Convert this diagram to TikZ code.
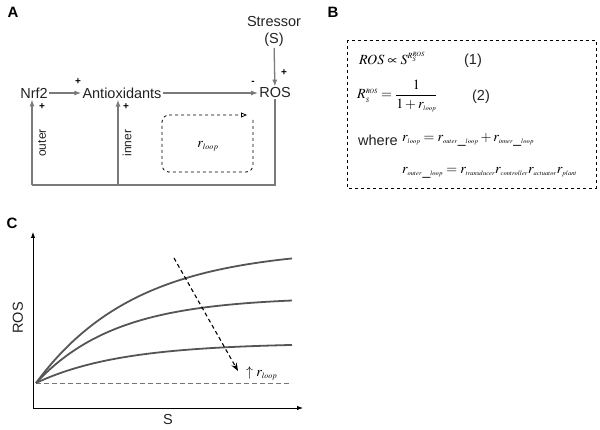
\documentclass[tikz,border=0pt]{standalone}
\usepackage{mathptmx}
\usepackage{fontspec}
\setmainfont{Liberation Sans}
\usetikzlibrary{arrows.meta,positioning}
\definecolor{linegray}{HTML}{7A7A7A}
\definecolor{curvegray}{HTML}{555555}
\definecolor{txtgray}{HTML}{222222}
\DeclareMathSizes{14}{14}{8}{6.5}
\newcommand{\tsub}[1]{_{\scriptscriptstyle #1}}

\begin{document}
\begin{tikzpicture}[x=1pt,y=-1pt,
  lbl/.style={font=\fontsize{14.5}{17}\selectfont,text=txtgray,inner sep=1pt},
  panel/.style={font=\fontsize{15}{17}\selectfont\bfseries,inner sep=0pt},
  sgn/.style={font=\fontsize{10}{11}\selectfont\bfseries,inner sep=0pt},
  arr/.style={-{Latex[length=7pt,width=5pt]},draw=linegray,line width=1.3pt},
  fb/.style={draw=linegray,line width=1.3pt},
  eq/.style={font=\fontsize{14}{16}\selectfont,anchor=west,inner sep=0pt},
  curve/.style={draw=curvegray,line width=1.8pt,smooth}
]
\useasboundingbox (0,0) rectangle (600,430);

% panel A
\node[panel] (pa) at (13,12) {A};
\node[lbl] (stress) at (274,22) {Stressor};
\node[lbl] (stressS) at (274,40) {(S)};
\node[lbl] (nrf) at (34,93) {Nrf2};
\node[lbl] (anti) at (122,93) {Antioxidants};
\node[lbl] (ros) at (275,93) {ROS};

\draw[arr] (stressS) -- (ros);
\draw[arr] (nrf) -- (anti);
\draw[arr] (anti) -- (ros);
\node[sgn] (p1) at (78,82) {+};
\node[sgn] (m1) at (253,83) {-};
\node[sgn] (p2) at (284,73) {+};

\coordinate (rosB) at (275,185);
\coordinate (nrfB) at (32,185);
\coordinate (antiB) at (118,185);
\draw[fb] (ros.south) |- (nrfB);
\draw[arr] (nrfB) -- (nrfB |- nrf.south);
\draw[arr] (antiB) -- (antiB |- anti.south);
\node[sgn] (p3) at (42,107) {+};
\node[sgn] (p4) at (126,107) {+};
\node[lbl,rotate=90,font=\fontsize{12}{14}\selectfont] (outer) at (42,143) {outer};
\node[lbl,rotate=90,font=\fontsize{12}{14}\selectfont] (inner) at (127,143) {inner};

\draw[dashed,line width=0.8pt,rounded corners=7pt,-{Triangle[open,length=6pt,width=5pt]}]
  (253,120) -- (253,172) -- (162,172) -- (162,115) -- (247,115);
\node[eq,anchor=center] (rloop) at (208,146) {$r_{loop}$};

% panel B
\node[panel] (pb) at (333,12) {B};
\draw[dashed,line width=0.8pt] (347,40) rectangle (596,188);
\node[eq] (eq1) at (359,58) {$ROS\propto S^{R_S^{ROS}}$};
\node[lbl] (n1) at (473,61) {(1)};
\node[eq] (eq2) at (357,96) {$\displaystyle R\tsub{S}^{\scriptscriptstyle ROS}=\frac{1}{1+r\tsub{loop}}$};
\node[lbl] (n2) at (481,97) {(2)};
\node[lbl,anchor=west] (where) at (357,140) {where};
\node[eq] (eq3) at (402,140) {$r\tsub{loop}=r\tsub{outer\,\_loop}+r\tsub{inner\,\_loop}$};
\node[eq] (eq4) at (402,173) {$r\tsub{outer\,\_loop}=r\tsub{transducer}r\tsub{controller}r\tsub{actuator}r\tsub{plant}$};

% panel C
\node[panel] (pc) at (12,223) {C};
\coordinate (orig) at (33,408);
\coordinate (ytop) at (33,232);
\coordinate (xend) at (303,408);
\draw[-{Latex[length=6pt,width=4.5pt]},line width=0.9pt] (orig) -- (ytop);
\draw[-{Latex[length=6pt,width=4.5pt]},line width=0.9pt] (orig) -- (xend);
\node[lbl,rotate=90] (rosax) at (18,318) {ROS};
\node[lbl] (sax) at (168,420) {S};
\draw[dashed,dash pattern=on 5pt off 3pt,draw=curvegray!80,line width=0.9pt] (36,383) -- (292,383);
\draw[curve] plot[domain=0:256,samples=40] ({36+\x},{383-135*(1-exp(-\x/100))});
\draw[curve] plot[domain=0:256,samples=40] ({36+\x},{383-86*(1-exp(-\x/80))});
\draw[curve] plot[domain=0:256,samples=40] ({36+\x},{383-40*(1-exp(-\x/85))});
\coordinate (darrS) at (174,258);
\coordinate (darrE) at (238,371);
\draw[dash pattern=on 4pt off 3pt,line width=1.1pt,-{Stealth[length=8pt,width=6pt]}] (darrS) -- (darrE);
\node[eq] (uploop) at (246,373) {$\uparrow r_{loop}$};
\end{tikzpicture}
\end{document}
